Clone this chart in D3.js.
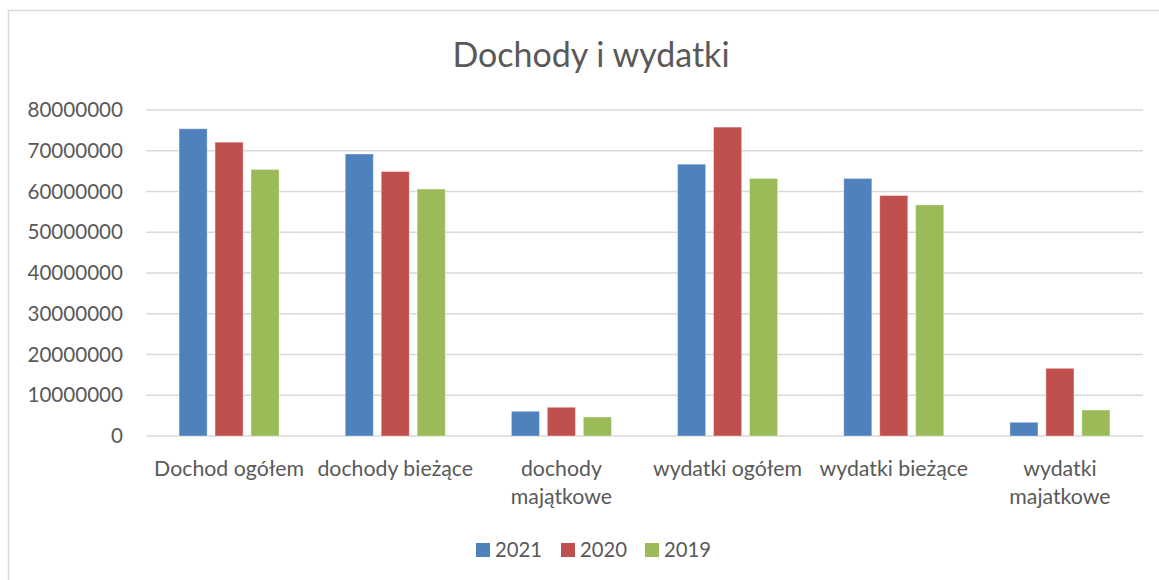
<!DOCTYPE html>
<html>
<head>
<meta charset="utf-8">
<script src="https://cdn.jsdelivr.net/npm/d3@7"></script>
<style>
  body { margin: 0; background: #fff; }
  text { font-family: Lato, "Open Sans", sans-serif; fill: #595959; }
</style>
</head>
<body>
<svg id="canvas"></svg>
<script>
const categories = ["Dochod ogółem", "dochody bieżące", "dochody majątkowe", "wydatki ogółem", "wydatki bieżące", "wydatki majatkowe"]
const seriesNames = ["2021", "2020", "2019"]
const values2021 = [75400000, 69200000, 6060000, 66700000, 63200000, 3360000]
const values2020 = [72100000, 64900000, 7040000, 75800000, 59000000, 16600000]
const values2019 = [65400000, 60600000, 4660000, 63200000, 56700000, 6380000]
const yTicks = [0, 10000000, 20000000, 30000000, 40000000, 50000000, 60000000, 70000000, 80000000]
const colors = ["#4F81BD", "#C0504D", "#9BBB59"]

const width = 1159, height = 580
const svg = d3.select("#canvas").attr("width", width).attr("height", height)

// chart frame (right and bottom edges lie outside the picture)
svg.append("rect")
    .attr("x", 8.5).attr("y", 10.5)
    .attr("width", 1180).attr("height", 600)
    .attr("fill", "#fff")
    .attr("stroke", "#d9d9d9")
    .attr("stroke-width", 1.5)

svg.append("text")
    .attr("x", 591).attr("y", 67)
    .attr("text-anchor", "middle")
    .style("font-size", "34px")
    .text("Dochody i wydatki")

const plot = {left: 146, right: 1143, top: 110, bottom: 436}

const y = d3.scaleLinear().domain([0, 80000000]).range([plot.bottom, plot.top])
const x = d3.scaleBand().domain(categories).range([plot.left, plot.right])
    .paddingInner(0).paddingOuter(0)
const innerW = 100
const xs = d3.scaleBand().domain(seriesNames)
    .range([(x.bandwidth() - innerW) / 2, (x.bandwidth() + innerW) / 2])
    .paddingInner(0.22)

// gridlines
svg.append("g").selectAll("line").data(yTicks).join("line")
    .attr("x1", plot.left).attr("x2", plot.right)
    .attr("y1", d => y(d)).attr("y2", d => y(d))
    .attr("stroke", "#d9d9d9").attr("stroke-width", 1.5)

// y axis labels
svg.append("g").selectAll("text").data(yTicks).join("text")
    .attr("x", 123).attr("y", d => y(d))
    .attr("dy", "0.35em")
    .attr("text-anchor", "end")
    .style("font-size", "20.6px")
    .text(d => d3.format("d")(d))

const table = categories.map((c, i) => ({
    cat: c,
    vals: [values2021[i], values2020[i], values2019[i]]
}))

const groups = svg.append("g").selectAll("g").data(table).join("g")
    .attr("transform", d => `translate(${x(d.cat)},0)`)

groups.selectAll("rect").data(d => d.vals.map((v, j) => ({key: seriesNames[j], v: v, j: j}))).join("rect")
    .attr("x", d => xs(d.key))
    .attr("width", xs.bandwidth())
    .attr("y", d => y(d.v))
    .attr("height", d => y(0) - y(d.v))
    .attr("fill", d => colors[d.j])
    .attr("stroke", "rgba(255,255,255,0.35)")
    .attr("stroke-width", 1)

// category labels, wrapped if too wide
const catLabels = svg.append("g").selectAll("text").data(categories).join("text")
    .attr("x", d => x(d) + x.bandwidth() / 2)
    .attr("y", 476)
    .attr("text-anchor", "middle")
    .style("font-size", "21.3px")

catLabels.each(function(d) {
    const t = d3.select(this)
    t.text(d)
    if (this.getComputedTextLength() > x.bandwidth() - 2) {
        t.text(null)
        const words = d.split(" ")
        words.forEach((w, k) => {
            t.append("tspan")
                .attr("x", x(d) + x.bandwidth() / 2)
                .attr("dy", k === 0 ? 0 : 28)
                .text(w)
        })
    }
})

// legend
const legend = svg.append("g").attr("transform", "translate(476,550)")
const legendX = [0, 85, 169]
seriesNames.forEach((s, i) => {
    legend.append("rect")
        .attr("x", legendX[i]).attr("y", -7)
        .attr("width", 14).attr("height", 14)
        .attr("fill", colors[i])
    legend.append("text")
        .attr("x", legendX[i] + 19).attr("y", 0)
        .attr("dy", "0.35em")
        .style("font-size", "20.3px")
        .text(s)
})
</script>
</body>
</html>
